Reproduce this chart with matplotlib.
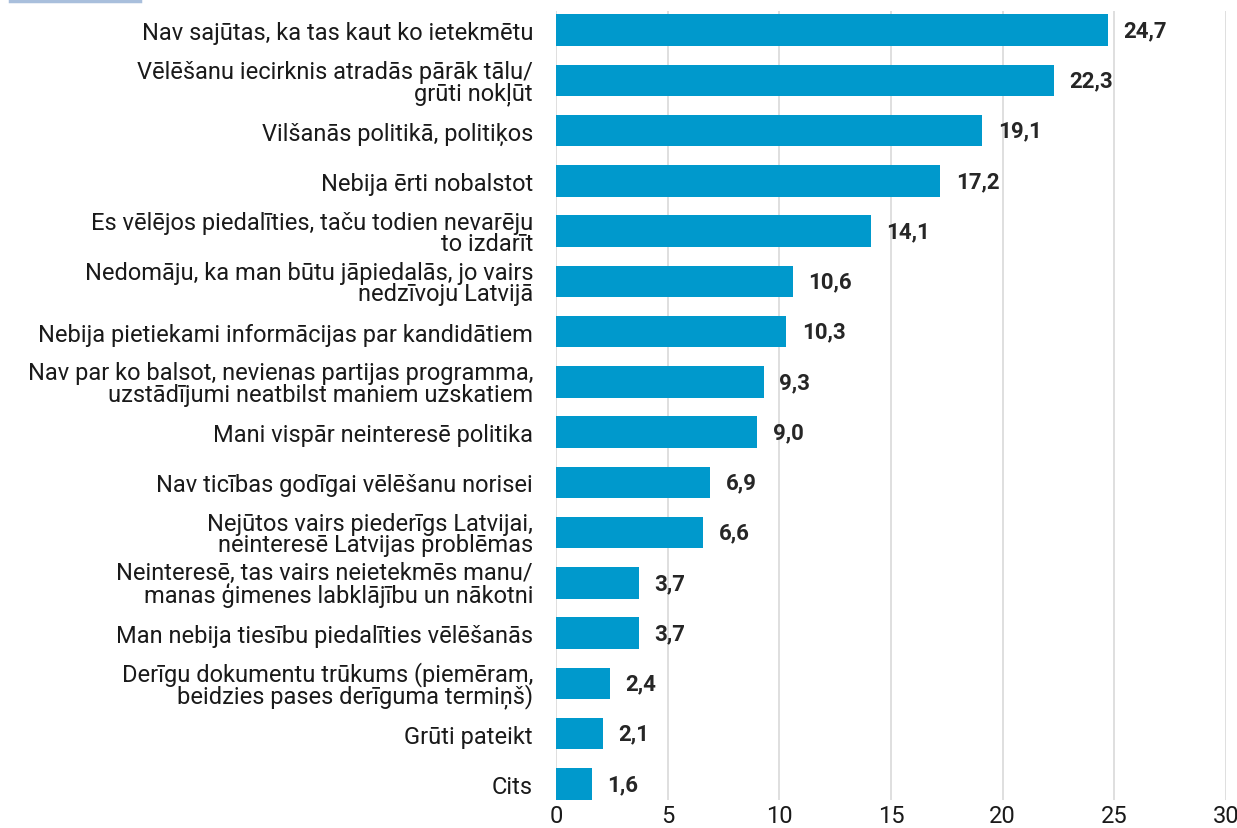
import matplotlib.pyplot as plt
from matplotlib.lines import Line2D

labels = [
    "Nav sajūtas, ka tas kaut ko ietekmētu",
    "Vēlēšanu iecirknis atradās pārāk tālu/\ngrūti nokļūt",
    "Vilšanās politikā, politiķos",
    "Nebija ērti nobalstot",
    "Es vēlējos piedalīties, taču todien nevarēju\nto izdarīt",
    "Nedomāju, ka man būtu jāpiedalās, jo vairs\nnedzīvoju Latvijā",
    "Nebija pietiekami informācijas par kandidātiem",
    "Nav par ko balsot, nevienas partijas programma,\nuzstādījumi neatbilst maniem uzskatiem",
    "Mani vispār neinteresē politika",
    "Nav ticības godīgai vēlēšanu norisei",
    "Nejūtos vairs piederīgs Latvijai,\nneinteresē Latvijas problēmas",
    "Neinteresē, tas vairs neietekmēs manu/\nmanas ģimenes labklājību un nākotni",
    "Man nebija tiesību piedalīties vēlēšanās",
    "Derīgu dokumentu trūkums (piemēram,\nbeidzies pases derīguma termiņš)",
    "Grūti pateikt",
    "Cits",
]
values = [24.7, 22.3, 19.1, 17.2, 14.1, 10.6, 10.3, 9.3, 9.0, 6.9, 6.6, 3.7, 3.7, 2.4, 2.1, 1.6]

plt.rcParams['font.family'] = ['Roboto', 'DejaVu Sans']

fig = plt.figure(figsize=(12.37, 8.29), dpi=100)
ax = fig.add_axes([0.4495, 0.0338, 0.5415, 0.9517])

pos = list(range(len(values)))
ax.barh(pos, values, height=0.63, color='#0099CC', zorder=3)
for p, v in zip(pos, values):
    ax.text(v + 0.7, p, f"{v:.1f}".replace('.', ','), va='center', ha='left',
            fontsize=16, fontweight='bold', color='#262626')

ax.set_yticks(pos)
ax.set_yticklabels(labels, fontsize=17, color='#1a1a1a', linespacing=0.9)
ax.set_ylim(15.32, -0.38)
ax.set_xlim(0, 30)
ax.set_xticks([0, 5, 10, 15, 20, 25, 30])
ax.tick_params(axis='x', labelsize=17, length=0, pad=3, colors='#1a1a1a')
ax.tick_params(axis='y', length=0, pad=16.5)
ax.grid(axis='x', color='#d9d9d9', linewidth=1.2, zorder=0)
for s in ax.spines.values():
    s.set_visible(False)

# thin accent line at top-left
fig.add_artist(Line2D([10 / 1237, 140 / 1237], [1 - 1.5 / 829, 1 - 1.5 / 829],
                      color='#a9bfdc', linewidth=2.5, transform=fig.transFigure))

fig.savefig('out.png', dpi=100)
